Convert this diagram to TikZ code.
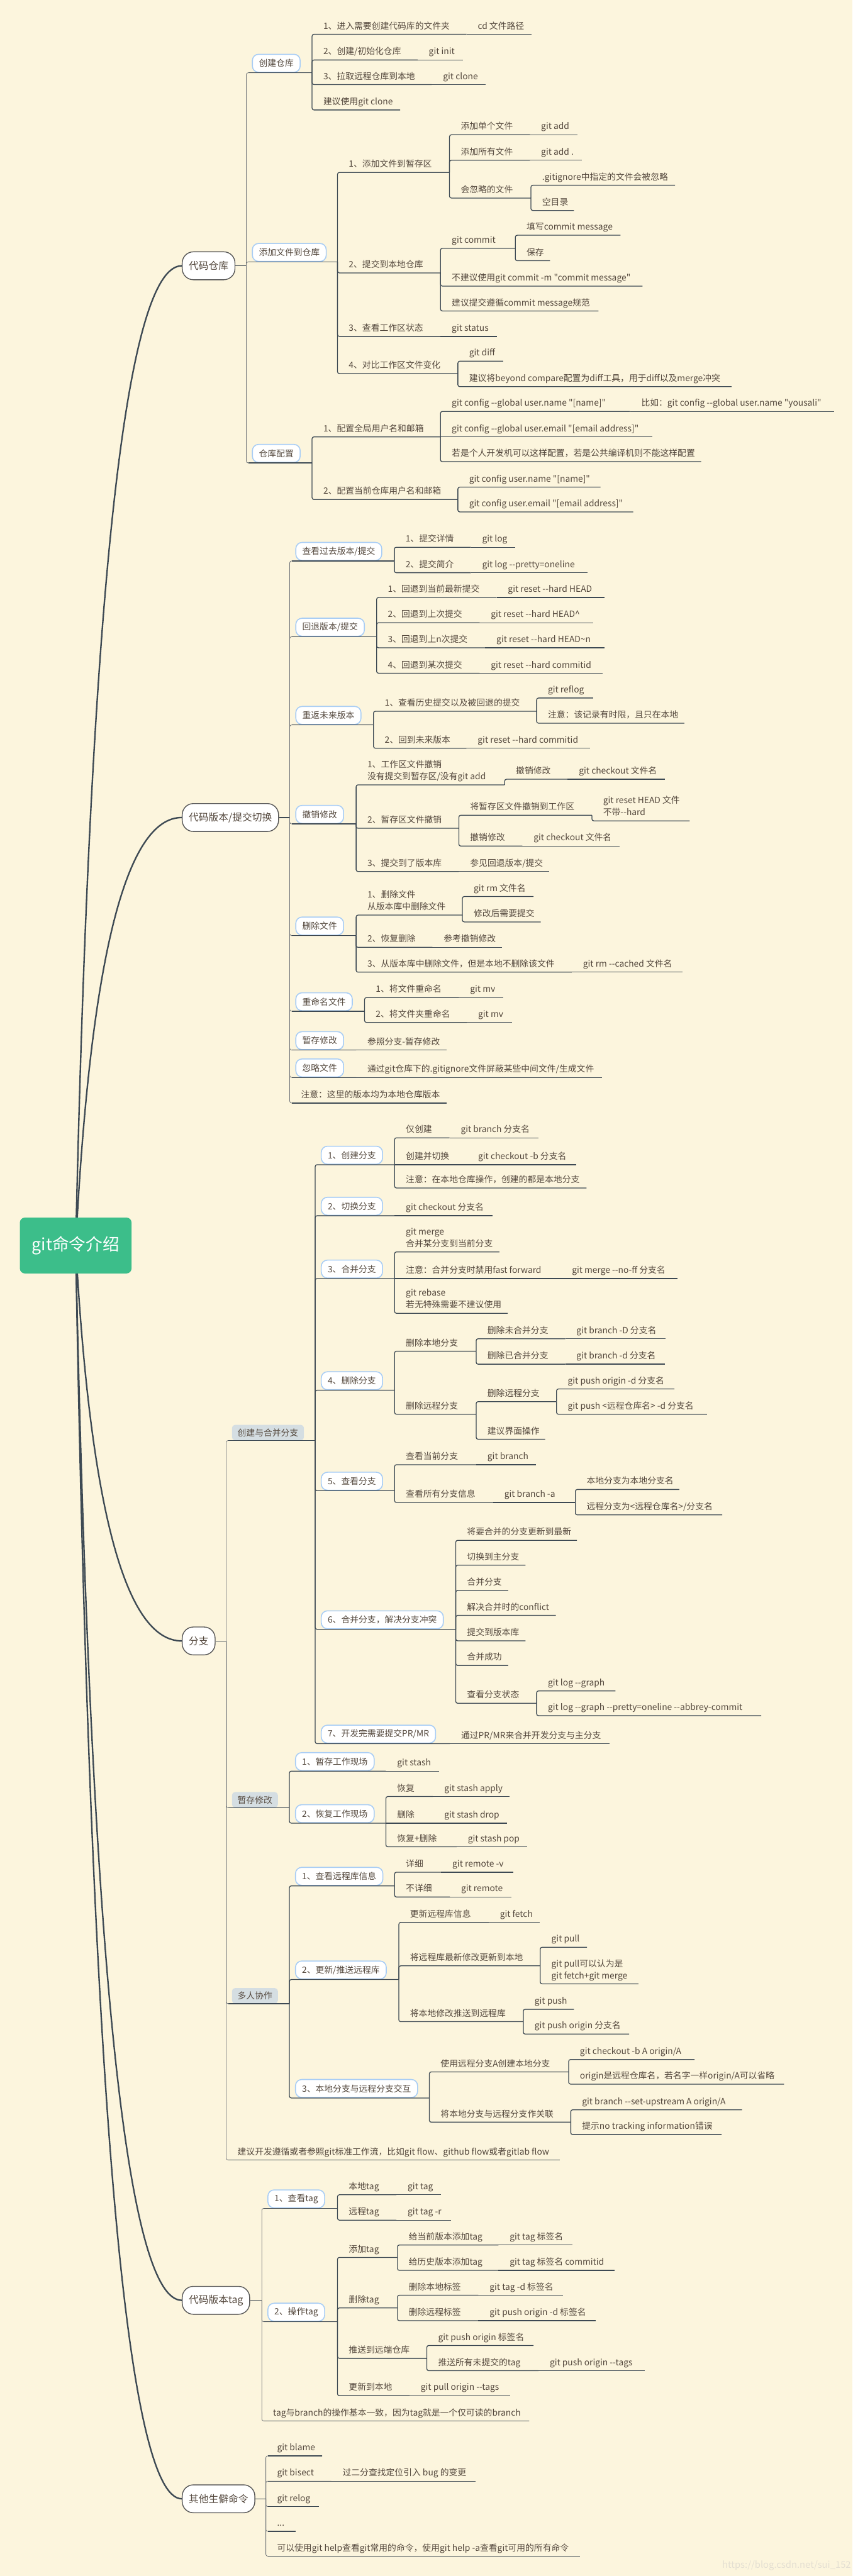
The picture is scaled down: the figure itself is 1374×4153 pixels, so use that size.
\documentclass[tikz,border=0pt]{standalone}
\usepackage{fontspec}
\usetikzlibrary{calc}
\newfontfamily\tf{Noto Sans CJK SC}
\definecolor{bg}{HTML}{FCF5DD}
\definecolor{tc}{HTML}{54483D}
\definecolor{lc}{HTML}{3D4953}
\definecolor{lvc}{HTML}{6E7378}
\definecolor{bc}{HTML}{A8CDF5}
\definecolor{gc}{HTML}{D5DEE2}
\definecolor{l1c}{HTML}{555555}
\definecolor{rootc}{HTML}{3CBE8A}
\definecolor{wm}{HTML}{E4DFD2}
\newcommand\twol[2]{\begin{tabular}[b]{@{}l@{}}#1\\#2\end{tabular}}
% connector from a level-1 junction: thin vertical, normal horizontal
\newcommand\Lc[2]{\draw[lnv] (#2) |- (#1);
  \draw[ln,rounded corners=0pt] ($(#2 |- #1)+(3,0)$) -- (#1);}
\newcommand\Tn[5]{\coordinate (#1) at (#3,#4);
  \draw[ln] (#2) |- (#1);
  \node[txt] (#1t) at ($(#2 |- #1)+(18,-8.5)$) {#5};}
\newcommand\TnL[5]{\coordinate (#1) at (#3,#4);
  \Lc{#1}{#2}
  \node[txt] (#1t) at ($(#2 |- #1)+(18,-8.5)$) {#5};}
\newcommand\Ts[5]{\coordinate (#1) at (#3,#4);
  \draw[ln] (#2) -- (#1);
  \node[txt] (#1t) at ($(#2)+(18,-8.5)$) {#5};}
\newcommand\Bx[5]{\coordinate (#1) at (#3,#4);
  \node[bx] (#1b) at ($(#2 |- #1)+(9,0)$) {#5};
  \draw[ln] (#2) |- (#1);}
\newcommand\BxL[5]{\coordinate (#1) at (#3,#4);
  \node[bx] (#1b) at ($(#2 |- #1)+(9,0)$) {#5};
  \Lc{#1}{#2}}
\newcommand\GxL[5]{\coordinate (#1) at (#3,#4);
  \node[gbx] (#1b) at ($(#2 |- #1)+(9,0)$) {#5};
  \Lc{#1}{#2}}
\newcommand\rc[2]{\draw[curve] (root.center) .. controls ($(root.center)!0.6667!(157,#2)$) and ($(#1.west)!0.6667!(157,#2)$) .. (#1.west);}
\tikzset{
  ln/.style={draw=lc, line width=1.3pt, rounded corners=3pt},
  lnv/.style={draw=lvc, line width=0.8pt, rounded corners=3pt},
  curve/.style={draw=lc, line width=2.4pt},
  txt/.style={anchor=base west, inner sep=0pt, text=tc, font=\tf\fontsize{14}{19.3}\selectfont},
  bx/.style={anchor=south west, draw=bc, line width=1.6pt, fill=white, rounded corners=10pt,
    minimum height=29pt, inner xsep=10.5pt, inner ysep=0pt, text=tc, font=\tf\fontsize{14}{19.3}\selectfont},
  gbx/.style={anchor=south west, fill=gc, rounded corners=5pt,
    minimum height=25pt, inner xsep=9pt, inner ysep=0pt, text=tc, font=\tf\fontsize{14}{19.3}\selectfont},
  lone/.style={anchor=west, draw=l1c, line width=1.4pt, fill=white, rounded corners=18pt,
    minimum height=45pt, inner xsep=10.5pt, inner ysep=0pt, text=tc, font=\tf\fontsize{16}{20}\selectfont},
  rootn/.style={fill=rootc, rounded corners=8pt, minimum width=180pt, minimum height=90pt,
    text=white, font=\tf\fontsize{27}{30}\selectfont},
}
\begin{document}
\begin{tikzpicture}[x=1pt,y=-1pt]
\useasboundingbox (0,0) rectangle (1374,4153);
\fill[bg] (0,0) rectangle (1374,4153);
% level-1 nodes
\node[lone] (A) at (293,428.5) {代码仓库};
\node[lone] (B) at (293,1318) {代码版本/提交切换};
\node[lone] (C) at (293,2645.5) {分支};
\node[lone] (D) at (293,3708.5) {代码版本tag};
\node[lone] (E) at (293,4028.5) {其他生僻命令};
\coordinate (root) at (122,2008);
\rc{A}{428.5}
\rc{B}{1318}
\rc{C}{2645.5}
\rc{D}{3708.5}
\rc{E}{4028.5}
\node[rootn] (rootbox) at (root) {git命令介绍};
\coordinate (Aj) at (397,428.5);
\coordinate (Bj) at (467,1318);
\coordinate (Cj) at (364.7,2645.5);
\coordinate (Dj) at (422,3708.5);
\coordinate (Ej) at (428.5,4028.5);
\draw[ln] (A.east) -- (Aj);
\draw[ln] (B.east) -- (Bj);
\draw[ln] (C.east) -- (Cj);
\draw[ln] (D.east) -- (Dj);
\draw[ln] (E.east) -- (Ej);
% ===== A
\BxL{a1}{Aj}{503}{117.3}{创建仓库}
  \Tn{a11}{a1}{752}{55.3}{1、进入需要创建代码库的文件夹}
    \Ts{a111}{a11}{857}{55.3}{cd 文件路径}
  \Tn{a12}{a1}{673}{96.7}{2、创建/初始化仓库}
    \Ts{a121}{a12}{746}{96.7}{git init}
  \Tn{a13}{a1}{696}{136.3}{3、拉取远程仓库到本地}
    \Ts{a131}{a13}{783}{136.3}{git clone}
  \Tn{a14}{a1}{645}{177.3}{建议使用git clone}
\BxL{a2}{Aj}{544}{422.3}{添加文件到仓库}
  \Tn{a21}{a2}{724.5}{278}{1、添加文件到暂存区}
    \Tn{a211}{a21}{854}{217.3}{添加单个文件}
      \Ts{a2111}{a211}{931}{217.3}{git add}
    \Tn{a212}{a21}{854}{258.3}{添加所有文件}
      \Ts{a2121}{a212}{938}{258.3}{git add .}
    \Tn{a213}{a21}{855.7}{319.3}{会忽略的文件}
      \Tn{a2131}{a213}{1088}{298.7}{.gitignore中指定的文件会被忽略}
      \Tn{a2132}{a213}{925}{339.3}{空目录}
  \Tn{a22}{a2}{710}{440}{2、提交到本地仓库}
    \Tn{a221}{a22}{830.6}{400.3}{git commit}
      \Tn{a2211}{a221}{1000}{379.3}{填写commit message}
      \Tn{a2212}{a221}{886.5}{420.3}{保存}
    \Tn{a222}{a22}{1035.6}{461.3}{不建议使用git commit -m "commit message"}
    \Tn{a223}{a22}{964.7}{501.3}{建议提交遵循commit message规范}
  \Tn{a23}{a2}{710}{542.3}{3、查看工作区状态}
    \Ts{a231}{a23}{800.5}{542.3}{git status}
  \Tn{a24}{a2}{738}{602.3}{4、对比工作区文件变化}
    \Tn{a241}{a24}{811}{582.3}{git diff}
    \Tn{a242}{a24}{1179}{623.3}{建议将beyond compare配置为diff工具，用于diff以及merge冲突}
\BxL{a3}{Aj}{503}{746.3}{仓库配置}
  \Tn{a31}{a3}{710}{704.3}{1、配置全局用户名和邮箱}
    \Tn{a311}{a31}{1015.5}{663.3}{git config --global user.name "[name]"}
      \Ts{a3111}{a311}{1344.6}{663.3}{比如：git config --global user.name "yousali"}
    \Ts{a312}{a31}{1051.4}{704.3}{git config --global user.email "[email address]"}
    \Tn{a313}{a31}{1130}{744.3}{若是个人开发机可以这样配置，若是公共编译机则不能这样配置}
  \Tn{a32}{a3}{738}{805.3}{2、配置当前仓库用户名和邮箱}
    \Tn{a321}{a32}{968}{785.3}{git config user.name "[name]"}
    \Tn{a322}{a32}{1020.6}{825.3}{git config user.email "[email address]"}
% ===== B
\BxL{b1}{Bj}{635.6}{904.3}{查看过去版本/提交}
  \Tn{b11}{b1}{759}{882.3}{1、提交详情}
    \Ts{b111}{b11}{830.6}{882.3}{git log}
  \Tn{b12}{b1}{759}{923.3}{2、提交简介}
    \Ts{b121}{b12}{947.4}{923.3}{git log --pretty=oneline}
\BxL{b2}{Bj}{607}{1026.5}{回退版本/提交}
  \Tn{b21}{b2}{800.5}{963.3}{1、回退到当前最新提交}
    \Ts{b211}{b21}{974}{963.3}{git reset --hard HEAD}
  \Tn{b22}{b2}{773}{1004}{2、回退到上次提交}
    \Ts{b221}{b22}{956}{1004}{git reset --hard HEAD\textasciicircum}
  \Tn{b23}{b2}{782}{1044.3}{3、回退到上n次提交}
    \Ts{b231}{b23}{974}{1044.3}{git reset --hard HEAD\textasciitilde n}
  \Tn{b24}{b2}{773}{1085.3}{4、回退到某次提交}
    \Ts{b241}{b24}{971}{1085.3}{git reset --hard commitid}
\BxL{b3}{Bj}{602}{1168.7}{重返未来版本}
  \Tn{b31}{b3}{865}{1146.7}{1、查看历史提交以及被回退的提交}
    \Tn{b311}{b31}{956}{1125.3}{git reflog}
    \Tn{b312}{b31}{1103}{1166}{注意：该记录有时限，且只在本地}
  \Tn{b32}{b3}{751.8}{1206.3}{2、回到未来版本}
    \Ts{b321}{b32}{951}{1206.3}{git reset --hard commitid}
\BxL{b4}{Bj}{574}{1328.3}{撤销修改}
  \Tn{b41}{b4}{813.4}{1265.3}{\twol{1、工作区文件撤销}{没有提交到暂存区/没有git add}}
    \Tn{b411}{b41}{915}{1256.3}{撤销修改}
      \Ts{b4111}{b411}{1071.4}{1256.3}{git checkout 文件名}
  \Tn{b42}{b4}{739.6}{1335.3}{2、暂存区文件撤销}
    \Tn{b421}{b42}{954}{1314.3}{将暂存区文件撤销到工作区}
      \Tn{b4211}{b421}{1111.6}{1323.3}{\twol{git reset HEAD 文件}{不带--hard}}
    \Tn{b422}{b42}{842}{1364}{撤销修改}
      \Ts{b4221}{b422}{998.3}{1364}{git checkout 文件名}
  \Tn{b43}{b4}{739.6}{1405}{3、提交到了版本库}
    \Ts{b431}{b43}{885}{1405}{参见回退版本/提交}
\BxL{b5}{Bj}{574}{1508.3}{删除文件}
  \Tn{b51}{b5}{745.3}{1475.3}{\twol{1、删除文件}{从版本库中删除文件}}
    \Tn{b511}{b51}{860}{1445.3}{git rm 文件名}
    \Tn{b512}{b51}{871.5}{1486.3}{修改后需要提交}
  \Tn{b52}{b5}{697}{1527.3}{2、恢复删除}
    \Ts{b521}{b52}{809}{1527.3}{参考撤销修改}
  \Tn{b53}{b5}{921.6}{1567.3}{3、从版本库中删除文件，但是本地不删除该文件}
    \Ts{b531}{b53}{1100}{1567.3}{git rm --cached 文件名}
\BxL{b6}{Bj}{587.6}{1630.3}{重命名文件}
  \Tn{b61}{b6}{739.6}{1608.3}{1、将文件重命名}
    \Ts{b611}{b61}{811}{1608.3}{git mv}
  \Tn{b62}{b6}{752.5}{1648.3}{2、将文件夹重命名}
    \Ts{b621}{b62}{825}{1648.3}{git mv}
\BxL{b7}{Bj}{574}{1693}{暂存修改}
  \Ts{b71}{b7}{720}{1693}{参照分支-暂存修改}
\BxL{b8}{Bj}{574}{1737}{忽略文件}
  \Ts{b81}{b8}{970}{1737}{通过git仓库下的.gitignore文件屏蔽某些中间文件/生成文件}
\TnL{b9}{Bj}{720}{1778.3}{注意：这里的版本均为本地仓库版本}
% ===== C
\GxL{c1}{Cj}{508}{2322.3}{创建与合并分支}
  \Bx{c11}{c1}{636}{1877.7}{1、创建分支}
    \Tn{c111}{c11}{724.5}{1834.3}{仅创建}
      \Ts{c1111}{c111}{868}{1834.3}{git branch 分支名}
    \Ts{c112}{c11}{752.5}{1877.7}{创建并切换}
      \Ts{c1121}{c112}{929}{1877.7}{git checkout -b 分支名}
    \Tn{c113}{c11}{945.3}{1915.3}{注意：在本地仓库操作，创建的都是本地分支}
  \Bx{c12}{c1}{636}{1960}{2、切换分支}
    \Ts{c121}{c12}{794}{1960}{git checkout 分支名}
  \Bx{c13}{c1}{636}{2061.3}{3、合并分支}
    \Tn{c131}{c13}{805}{2018.3}{\twol{git merge}{合并某分支到当前分支}}
    \Ts{c132}{c13}{903.7}{2061.3}{注意：合并分支时禁用fast forward}
      \Ts{c1321}{c132}{1092}{2061.3}{git merge --no-ff 分支名}
    \Tn{c133}{c13}{818.4}{2117.3}{\twol{git rebase}{若无特殊需要不建议使用}}
  \Bx{c14}{c1}{636}{2241.3}{4、删除分支}
    \Tn{c141}{c14}{767.5}{2178.3}{删除本地分支}
      \Tn{c1411}{c141}{911}{2158.3}{删除未合并分支}
        \Ts{c14111}{c1411}{1073}{2158.3}{git branch -D 分支名}
      \Tn{c1412}{c141}{911}{2199.3}{删除已合并分支}
        \Ts{c14121}{c1412}{1071.4}{2199.3}{git branch -d 分支名}
    \Tn{c142}{c14}{767.5}{2280}{删除远程分支}
      \Tn{c1421}{c142}{897}{2259.7}{删除远程分支}
        \Tn{c14211}{c1421}{1087}{2239.3}{git push origin -d 分支名}
        \Tn{c14212}{c1421}{1139.5}{2280}{git push <远程仓库名> -d 分支名}
      \Tn{c1422}{c142}{878.6}{2320.3}{建议界面操作}
  \Bx{c15}{c1}{636}{2403.3}{5、查看分支}
    \Tn{c151}{c15}{767.5}{2361.3}{查看当前分支}
      \Ts{c1511}{c151}{864}{2361.3}{git branch}
    \Tn{c152}{c15}{794.8}{2422.3}{查看所有分支信息}
      \Ts{c1521}{c152}{927.4}{2422.3}{git branch -a}
        \Tn{c15211}{c1521}{1095}{2401.3}{本地分支为本地分支名}
        \Tn{c15212}{c1521}{1164}{2442.3}{远程分支为<远程仓库名>/分支名}
  \Bx{c16}{c1}{734.6}{2626.7}{6、合并分支，解决分支冲突}
    \Tn{c161}{c16}{930}{2483.3}{将要合并的分支更新到最新}
    \Tn{c162}{c16}{847}{2523.3}{切换到主分支}
    \Tn{c163}{c16}{819}{2564}{合并分支}
    \Tn{c164}{c16}{896}{2604.3}{解决合并时的conflict}
    \Tn{c165}{c16}{847}{2645.3}{提交到版本库}
    \Tn{c166}{c16}{819}{2685}{合并成功}
    \Tn{c167}{c16}{865}{2746}{查看分支状态}
      \Tn{c1671}{c167}{992}{2726}{git log --graph}
      \Tn{c1672}{c167}{1227}{2766}{git log --graph --pretty=oneline --abbrey-commit}
  \Bx{c17}{c1}{725}{2811}{7、开发完需要提交PR/MR}
    \Ts{c171}{c17}{982.6}{2811}{通过PR/MR来合并开发分支与主分支}
\GxL{c2}{Cj}{466.5}{2914.3}{暂存修改}
  \Bx{c21}{c2}{622}{2855.3}{1、暂存工作现场}
    \Ts{c211}{c21}{708}{2855.3}{git stash}
  \Bx{c22}{c2}{622}{2939.3}{2、恢复工作现场}
    \Tn{c221}{c22}{698}{2896.3}{恢复}
      \Ts{c2211}{c221}{821.3}{2896.3}{git stash apply}
    \Ts{c222}{c22}{698}{2939.3}{删除}
      \Ts{c2221}{c222}{817.7}{2939.3}{git stash drop}
    \Tn{c223}{c22}{736}{2977.3}{恢复+删除}
      \Ts{c2231}{c223}{850}{2977.3}{git stash pop}
\GxL{c3}{Cj}{466.5}{3230.3}{多人协作}
  \Bx{c31}{c3}{636}{3040.3}{1、查看远程库信息}
    \Tn{c311}{c31}{711}{3018.3}{详细}
      \Ts{c3111}{c311}{827}{3018.3}{git remote -v}
    \Tn{c312}{c31}{725}{3058.3}{不详细}
      \Ts{c3121}{c312}{824}{3058.3}{git remote}
  \Bx{c32}{c3}{642.8}{3191.3}{2、更新/推送远程库}
    \Tn{c321}{c32}{787.6}{3099.3}{更新远程库信息}
      \Ts{c3211}{c321}{870}{3099.3}{git fetch}
    \Tn{c322}{c32}{870.7}{3169.3}{将远程库最新修改更新到本地}
      \Tn{c3221}{c322}{946}{3139.3}{git pull}
      \Tn{c3222}{c322}{1029}{3198.3}{\twol{git pull可以认为是}{git fetch+git merge}}
    \Tn{c323}{c32}{843.5}{3259.3}{将本地修改推送到远程库}
      \Tn{c3231}{c323}{925}{3239.3}{git push}
      \Tn{c3232}{c323}{1014}{3279.3}{git push origin 分支名}
  \Bx{c33}{c3}{692}{3382.3}{3、本地分支与远程分支交互}
    \Tn{c331}{c33}{916.6}{3340.3}{使用远程分支A创建本地分支}
      \Tn{c3311}{c331}{1119.5}{3320.3}{git checkout -b A origin/A}
      \Tn{c3312}{c331}{1263.6}{3360}{origin是远程仓库名，若名字一样origin/A可以省略}
    \Tn{c332}{c33}{920}{3421.3}{将本地分支与远程分支作关联}
      \Tn{c3321}{c332}{1196}{3401.3}{git branch --set-upstream A origin/A}
      \Tn{c3322}{c332}{1163}{3441.3}{提示no tracking information错误}
\TnL{c4}{Cj}{902.3}{3482.3}{建议开发遵循或者参照git标准工作流，比如git flow、github flow或者gitlab flow}
% ===== D
\BxL{d1}{Dj}{544}{3560.3}{1、查看tag}
  \Tn{d11}{d1}{639}{3538.3}{本地tag}
    \Ts{d111}{d11}{711}{3538.3}{git tag}
  \Tn{d12}{d1}{639}{3579.3}{远程tag}
    \Ts{d121}{d12}{726.7}{3579.3}{git tag -r}
\BxL{d2}{Dj}{544}{3743}{2、操作tag}
  \Tn{d21}{d2}{640.7}{3639.3}{添加tag}
    \Tn{d211}{d21}{803.4}{3619.3}{给当前版本添加tag}
      \Ts{d2111}{d211}{923}{3619.3}{git tag 标签名}
    \Tn{d212}{d21}{803.4}{3660.3}{给历史版本添加tag}
      \Ts{d2121}{d212}{991}{3660.3}{git tag 标签名 commitid}
  \Tn{d22}{d2}{640.7}{3720.7}{删除tag}
    \Tn{d221}{d22}{771}{3700.3}{删除本地标签}
      \Ts{d2211}{d221}{907.3}{3700.3}{git tag -d 标签名}
    \Tn{d222}{d22}{771}{3741.3}{删除远程标签}
      \Ts{d2221}{d222}{960}{3741.3}{git push origin -d 标签名}
  \Tn{d23}{d2}{688}{3802}{推送到远端仓库}
    \Tn{d231}{d23}{860}{3781.3}{git push origin 标签名}
    \Tn{d232}{d23}{868}{3822}{推送所有未提交的tag}
      \Ts{d2321}{d232}{1039}{3822}{git push origin --tags}
  \Tn{d24}{d2}{660}{3862.3}{更新到本地}
    \Ts{d241}{d24}{822.7}{3862.3}{git pull origin --tags}
\TnL{d3}{Dj}{853}{3903}{tag与branch的操作基本一致，因为tag就是一个仅可读的branch}
% ===== E
\TnL{e1}{Ej}{519.5}{3959.3}{git blame}
\TnL{e2}{Ej}{534}{4000}{git bisect}
  \Ts{e21}{e2}{767}{4000}{过二分查找定位引入 bug 的变更}
\TnL{e3}{Ej}{513.8}{4041}{git relog}
\TnL{e4}{Ej}{476.5}{4081}{...}
\TnL{e5}{Ej}{934.5}{4121}{可以使用git help查看git常用的命令，使用git help -a查看git可用的所有命令}
% watermark
\node[anchor=base west, inner sep=0pt, text=wm, font=\tf\fontsize{15}{18}\selectfont] (wmark) at (1164,4140) {https://blog.csdn.net/sui\_152};
\end{tikzpicture}
\end{document}
